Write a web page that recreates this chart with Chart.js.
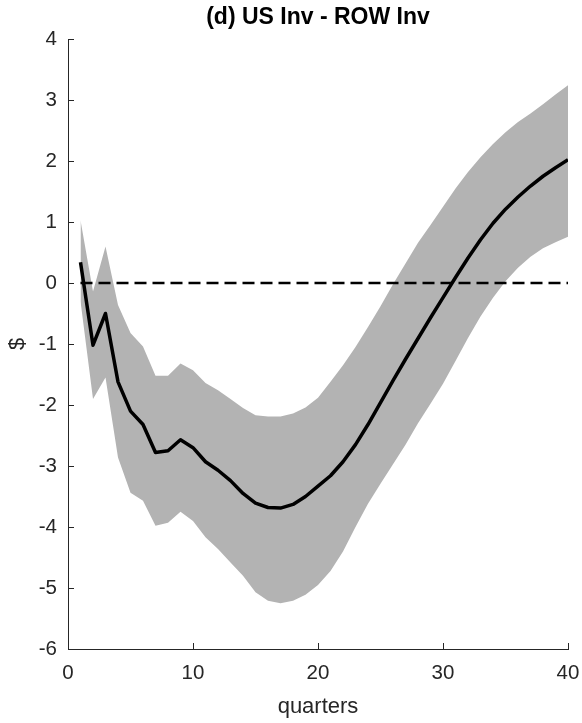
<!DOCTYPE html>
<html>
<head>
<meta charset="utf-8">
<script src="https://cdn.jsdelivr.net/npm/chart.js@4.4.1/dist/chart.umd.min.js"></script>
<style>
  html, body { margin: 0; padding: 0; background: #ffffff; }
  #wrap { width: 582px; height: 723px; position: relative; }
</style>
</head>
<body>
<div id="wrap"><canvas id="c" width="582" height="723"></canvas></div>
<script>
const quarters = [1,2,3,4,5,6,7,8,9,10,11,12,13,14,15,16,17,18,19,20,21,22,23,24,25,26,27,28,29,30,31,32,33,34,35,36,37,38,39,40];
const meanResponse = [0.34,-1.02,-0.50,-1.62,-2.10,-2.32,-2.78,-2.75,-2.57,-2.70,-2.93,-3.07,-3.24,-3.45,-3.61,-3.68,-3.69,-3.63,-3.50,-3.33,-3.16,-2.93,-2.65,-2.32,-1.96,-1.60,-1.25,-0.91,-0.57,-0.24,0.09,0.41,0.71,0.98,1.21,1.41,1.59,1.75,1.89,2.02];
const upperBand = [1.03,-0.14,0.60,-0.36,-0.82,-1.04,-1.52,-1.52,-1.32,-1.43,-1.64,-1.76,-1.90,-2.05,-2.17,-2.19,-2.19,-2.14,-2.04,-1.88,-1.62,-1.35,-1.05,-0.72,-0.38,-0.02,0.32,0.66,0.95,1.25,1.55,1.82,2.06,2.28,2.47,2.64,2.78,2.93,3.09,3.24];
const lowerBand = [-0.30,-1.90,-1.55,-2.86,-3.44,-3.57,-3.98,-3.93,-3.75,-3.90,-4.17,-4.36,-4.58,-4.80,-5.07,-5.21,-5.25,-5.21,-5.11,-4.95,-4.72,-4.40,-4.00,-3.62,-3.29,-2.97,-2.65,-2.30,-1.98,-1.65,-1.28,-0.90,-0.55,-0.24,0.03,0.25,0.43,0.57,0.67,0.76];
const zeroLine = quarters.map(() => 0);
const xTickValues = [0,10,20,30,40];
const yTickValues = [-6,-5,-4,-3,-2,-1,0,1,2,3,4];

const titleText = '(d) US Inv - ROW Inv';
const xLabel = 'quarters';
const yLabel = '$';

const pts = arr => quarters.map((q, i) => ({x: q, y: arr[i]}));
const FONT = '"Liberation Sans", Helvetica, Arial, sans-serif';
const AXIS_COLOR = '#262626';

const innerTicks = {
  id: 'innerTicks',
  afterDraw(chart) {
    const ctx = chart.ctx;
    const xs = chart.scales.x, ys = chart.scales.y;
    const area = chart.chartArea;
    const len = 6;
    ctx.save();
    ctx.strokeStyle = AXIS_COLOR;
    ctx.lineWidth = 1;
    ctx.beginPath();
    xTickValues.forEach(v => {
      const px = Math.round(xs.getPixelForValue(v)) + 0.5;
      ctx.moveTo(px, area.bottom);
      ctx.lineTo(px, area.bottom - len);
    });
    yTickValues.forEach(v => {
      const py = Math.round(ys.getPixelForValue(v)) + 0.5;
      ctx.moveTo(area.left, py);
      ctx.lineTo(area.left + len, py);
    });
    ctx.stroke();
    ctx.restore();
  }
};

new Chart(document.getElementById('c'), {
  type: 'line',
  data: {
    datasets: [
      { label: 'mean', data: pts(meanResponse), borderColor: '#000000', borderWidth: 3.5,
        pointRadius: 0, fill: false, order: 0, tension: 0, borderJoinStyle: 'round', borderCapStyle: 'butt' },
      { label: 'zero', data: pts(zeroLine), borderColor: '#000000', borderWidth: 2.5,
        borderDash: [12, 6], pointRadius: 0, fill: false, order: 1 },
      { label: 'upper', data: pts(upperBand), borderWidth: 0, borderColor: 'rgba(0,0,0,0)',
        backgroundColor: '#b3b3b3', pointRadius: 0, fill: '+1', order: 2 },
      { label: 'lower', data: pts(lowerBand), borderWidth: 0, borderColor: 'rgba(0,0,0,0)',
        backgroundColor: '#b3b3b3', pointRadius: 0, fill: false, order: 3 }
    ]
  },
  options: {
    responsive: false,
    animation: false,
    events: [],
    layout: { padding: { left: 0, right: 14, top: 0, bottom: 0 } },
    plugins: {
      legend: { display: false },
      tooltip: { enabled: false },
      title: {
        display: true, text: titleText, color: '#000000', fullSize: false,
        font: { family: FONT, size: 23, weight: 'bold' },
        padding: { top: 4, bottom: 7.4 }
      }
    },
    scales: {
      x: {
        type: 'linear', min: 0, max: 40,
        afterFit: s => { s.height = 74; s.paddingLeft = 0; s.paddingRight = 0; },
        afterBuildTicks: s => { s.ticks = xTickValues.map(v => ({value: v})); },
        grid: { display: false, drawTicks: false },
        border: { display: true, color: AXIS_COLOR, width: 1 },
        ticks: { color: AXIS_COLOR, font: { family: FONT, size: 20.5 }, padding: 12, maxRotation: 0 },
        title: { display: true, text: xLabel, color: AXIS_COLOR,
                 font: { family: FONT, size: 22 }, padding: { top: 0, bottom: 3 } }
      },
      y: {
        type: 'linear', min: -6, max: 4,
        afterFit: s => { s.width = 68; s.paddingTop = 0; s.paddingBottom = 0; },
        afterBuildTicks: s => { s.ticks = yTickValues.map(v => ({value: v})); },
        grid: { display: false, drawTicks: false },
        border: { display: true, color: AXIS_COLOR, width: 1 },
        ticks: { color: AXIS_COLOR, font: { family: FONT, size: 20.5 }, padding: 11 },
        title: { display: true, text: yLabel, color: AXIS_COLOR,
                 font: { family: FONT, size: 22 }, padding: { top: 5, bottom: 0 } }
      }
    }
  },
  plugins: [innerTicks]
});
</script>
</body>
</html>
